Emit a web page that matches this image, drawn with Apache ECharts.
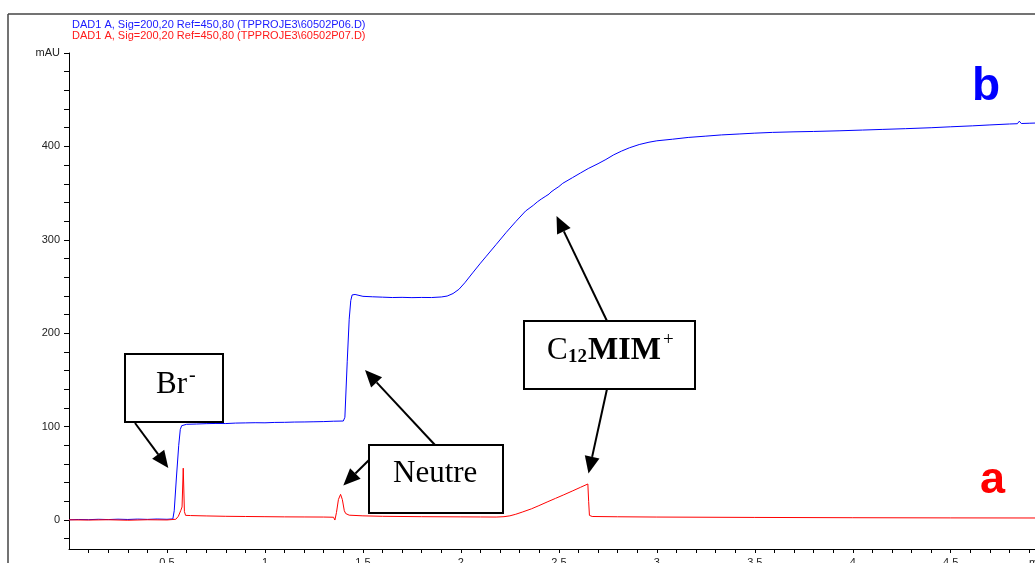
<!DOCTYPE html>
<html>
<head>
<meta charset="utf-8">
<script src="https://cdn.jsdelivr.net/npm/echarts@6/dist/echarts.min.js"></script>
<style>
  html, body { margin: 0; padding: 0; background: #fff; }
  #chart { width: 1035px; height: 563px; }
</style>
</head>
<body>
<div id="chart"></div>
<script>
// Signal names (data files)
const fileB = 'DAD1 A, Sig=200,20 Ref=450,80 (TPPROJE3\\60502P06.D)';
const fileA = 'DAD1 A, Sig=200,20 Ref=450,80 (TPPROJE3\\60502P07.D)';

// Trace b (blue): time in min, absorbance in mAU
const timeB = [
  0.00, 0.05, 0.10, 0.15, 0.20, 0.25, 0.30, 0.35, 0.40, 0.45, 0.50, 0.530,
  0.537, 0.548, 0.560, 0.568, 0.575, 0.585, 0.60, 0.65, 0.70, 0.75, 0.80, 0.85,
  0.90, 0.95, 1.00, 1.05, 1.10, 1.15, 1.20, 1.25, 1.30, 1.35, 1.400,
  1.408, 1.420, 1.430, 1.438, 1.445, 1.46, 1.48, 1.50, 1.55, 1.60, 1.65, 1.70,
  1.75, 1.80, 1.85, 1.90, 1.93, 1.96, 1.99, 2.02, 2.06, 2.10, 2.13, 2.18, 2.23,
  2.28, 2.33, 2.37, 2.38, 2.39, 2.40, 2.41, 2.42, 2.43, 2.44, 2.45, 2.46, 2.47,
  2.48, 2.49, 2.50, 2.51, 2.52, 2.57, 2.61, 2.65, 2.70, 2.74, 2.78, 2.82, 2.86,
  2.91, 2.96, 3.00, 3.08, 3.16, 3.25, 3.33, 3.42, 3.50, 3.59, 3.70, 3.80, 3.93,
  4.05, 4.15, 4.27, 4.40, 4.50, 4.61, 4.70, 4.80, 4.84, 4.85, 4.86, 4.90, 4.93
];
const absB = [
  0.3, 0.6, 0.4, 0.8, 0.5, 0.9, 0.6, 1.0, 0.7, 1.1, 0.8, 1.2,
  10, 45, 80, 97, 101, 102, 102.5, 102.8, 103.2, 103.4, 103.3, 103.8,
  104.0, 104.2, 104.1, 104.5, 104.6, 104.9, 105.0, 105.2, 105.4, 105.8, 106.0,
  110, 170, 215, 235, 241, 241.5, 240.5, 239.5, 239.0, 238.6, 238.2, 238.4,
  238.1, 238.3, 238.2, 238.8, 239.8, 242.5, 247, 254, 264.6, 275, 282.5, 295, 307.6,
  319.5, 330.8, 337.0, 338.9, 340.6, 341.8, 343.6, 345.0, 346.3, 348.2, 349.0, 351.2, 352.2,
  354.2, 355.3, 357.0, 358.2, 360.5, 366.6, 371.5, 376.3, 381.5, 386.0, 391.0, 395.0, 398.5,
  402.0, 404.5, 406.0, 407.7, 409.6, 411.0, 412.3, 413.3, 414.2, 415.0, 415.6, 416.0, 416.7,
  417.5, 418.2, 419.0, 420.0, 421.0, 422.0, 423.0, 424.0, 424.3, 427.0, 424.5, 424.8, 425.0
];

// Trace a (red): time in min, absorbance in mAU
const timeA = [
  0.00, 0.10, 0.20, 0.30, 0.40, 0.50, 0.545, 0.558, 0.570, 0.577, 0.583, 0.589,
  0.595, 0.62, 0.70, 0.80, 0.90, 1.00, 1.10, 1.20, 1.30, 1.35,
  1.357, 1.365, 1.375, 1.386, 1.395, 1.405, 1.412, 1.43, 1.50, 1.60, 1.80, 2.00,
  2.10, 2.18, 2.22, 2.25, 2.28, 2.313, 2.36, 2.398, 2.44, 2.483, 2.525, 2.568,
  2.61, 2.648, 2.652, 2.656, 2.67, 2.80, 3.00, 3.50, 4.00, 4.50, 4.93
];
const absA = [
  0.2, 0.0, 0.3, -0.2, 0.3, 0.1, 0.8, 4, 10, 14, 55.5, 9,
  5.0, 4.8, 4.4, 4.0, 3.8, 3.6, 3.4, 3.3, 3.2, 3.0,
  0.0, 8, 22, 27.5, 22, 10, 7, 5.2, 4.5, 4.0, 3.6, 3.4,
  3.3, 3.2, 3.6, 4.5, 6.2, 8.5, 12, 15.4, 19.3, 23.2, 27, 31,
  35, 38.6, 20, 5, 3.8, 3.5, 3.2, 2.8, 2.5, 2.3, 2.2
];

// Axis labels
const yLabelValues = [0, 100, 200, 300, 400];
const yUnit = 'mAU';
const yTop = 500;
const xLabelValues = [0.5, 1, 1.5, 2, 2.5, 3, 3.5, 4, 4.5];
const xUnit = 'min';

// Tick positions (every 20 mAU, every 0.1 min)
const yTickValues = [];
for (let v = -20; v <= 480; v += 20) yTickValues.push(v);
yTickValues.push(yTop);
const xTickValues = [];
for (let i = 1; i <= 49; i++) xTickValues.push(+(i / 10).toFixed(1));

const zip = (ts, vs) => ts.map((t, i) => [t, vs[i]]);

const SANS = '"Liberation Sans", Arial, sans-serif';
const SERIF = '"Liberation Serif", "Times New Roman", serif';

function arrow(x1, y1, x2, y2) {
  const dx = x2 - x1, dy = y2 - y1, L = Math.hypot(dx, dy);
  const ux = dx / L, uy = dy / L, hl = 17, hw = 7.5;
  const bx = x2 - ux * hl, by = y2 - uy * hl;
  return [
    { type: 'line', shape: { x1: x1, y1: y1, x2: bx, y2: by }, style: { stroke: '#000', lineWidth: 2 } },
    { type: 'polygon', shape: { points: [[x2, y2], [bx - uy * hw, by + ux * hw], [bx + uy * hw, by - ux * hw]] }, style: { fill: '#000' } }
  ];
}

function box(x, y, w, h) {
  return { type: 'rect', shape: { x: x, y: y, width: w, height: h }, style: { fill: '#fff', stroke: '#000', lineWidth: 2 } };
}

function txt(x, y, text, size, opts) {
  return {
    type: 'text', x: x, y: y,
    style: Object.assign({ text: text, fontSize: size, fontFamily: SERIF, fill: '#000', align: 'left', verticalAlign: 'middle' }, opts || {})
  };
}

const graphics = [
  // page frame
  { type: 'line', shape: { x1: 8, y1: 14, x2: 1035, y2: 14 }, style: { stroke: '#444', lineWidth: 1.5 } },
  { type: 'line', shape: { x1: 8, y1: 14, x2: 8, y2: 563 }, style: { stroke: '#444', lineWidth: 1.5 } },

  // Br- label
  box(125, 354, 98, 68),
  txt(156, 385, 'Br', 31),
  txt(189, 376, '-', 20),
  ...arrow(135, 423, 168.3, 468),

  // Neutre label
  box(369, 445, 134, 68),
  txt(393, 474, 'Neutre', 31),
  ...arrow(435, 445, 365, 370),
  ...arrow(369, 460, 343.3, 485.5),

  // C12MIM+ label
  box(524, 321, 171, 68),
  txt(547, 351, 'C', 31),
  txt(568, 357, '12', 19, { fontWeight: 'bold' }),
  txt(588, 351, 'MIM', 32, { fontWeight: 'bold' }),
  txt(663, 340, '+', 19),
  ...arrow(607, 321, 556.5, 216),
  ...arrow(607, 389, 588.5, 473.5),

  // trace letters
  txt(972, 87, 'b', 46, { fontFamily: SANS, fontWeight: 'bold', fill: '#0000ff' }),
  txt(980, 481, 'a', 45, { fontFamily: SANS, fontWeight: 'bold', fill: '#ff0000' }),

  // x unit at axis end
  txt(1029, 563, xUnit, 11, { fontFamily: SANS, fill: '#222', verticalAlign: 'middle' })
];

const chart = echarts.init(document.getElementById('chart'), null, { renderer: 'canvas' });
chart.setOption({
  animation: false,
  backgroundColor: '#fff',
  legend: {
    orient: 'vertical', left: 62, top: 14,
    itemWidth: 0, itemHeight: 0, itemGap: -1,
    selectedMode: false,
    textStyle: { fontSize: 11, lineHeight: 12, fontFamily: SANS },
    data: [
      { name: fileB, icon: 'none', textStyle: { color: '#1a1aff' } },
      { name: fileA, icon: 'none', textStyle: { color: '#ff1a1a' } }
    ]
  },
  grid: { left: 69, right: 0, top: 53, bottom: 14, containLabel: false, outerBoundsMode: 'none' },
  xAxis: {
    type: 'value', min: 0, max: 4.93,
    axisLine: { show: true, onZero: false, lineStyle: { color: '#000', width: 1 } },
    axisTick: { show: true, length: 4, customValues: xTickValues, lineStyle: { color: '#000' } },
    axisLabel: {
      customValues: xLabelValues, margin: 8, fontSize: 11, fontFamily: SANS, color: '#222',
      formatter: v => String(v)
    },
    splitLine: { show: false }
  },
  yAxis: {
    type: 'value', min: -31, max: yTop,
    axisLine: { show: true, lineStyle: { color: '#000', width: 1 } },
    axisTick: { show: true, length: 5, customValues: yTickValues, lineStyle: { color: '#000' } },
    axisLabel: {
      customValues: yLabelValues.concat([yTop]), margin: 9, fontSize: 11, fontFamily: SANS, color: '#222',
      formatter: v => (v === yTop ? yUnit : String(v))
    },
    splitLine: { show: false }
  },
  series: [
    {
      name: fileB, type: 'line', data: zip(timeB, absB),
      showSymbol: false, symbol: 'none', smooth: false,
      lineStyle: { color: '#0000ff', width: 1 }, itemStyle: { color: '#0000ff' }, z: 2
    },
    {
      name: fileA, type: 'line', data: zip(timeA, absA),
      showSymbol: false, symbol: 'none', smooth: false,
      lineStyle: { color: '#ff0000', width: 1 }, itemStyle: { color: '#ff0000' }, z: 3
    }
  ],
  graphic: { elements: graphics }
});
</script>
</body>
</html>
